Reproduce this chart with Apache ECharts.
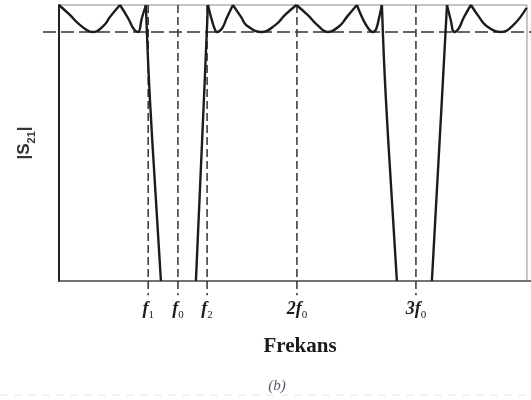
<!DOCTYPE html>
<html><head><meta charset="utf-8">
<script src="https://cdn.jsdelivr.net/npm/echarts@6/dist/echarts.min.js"></script>
<style>html,body{margin:0;padding:0;background:#fff}#c{width:531px;height:400px}</style>
</head><body><div id="c"></div>
<script>
// Frequency in units of f0, |S21| normalised to 1
const markerValues = [0.75, 1, 1.245, 2, 3];
const markerLabels = ['{i|f}{s|1}', '{i|f}{s|0}', '{i|f}{s|2}', '{i|2f}{s|0}', '{i|3f}{s|0}'];
const rippleLevel = 0.902;
const xRange = [-0.134, 3.967];     // visible frequency range (dashed ripple line spans it)
const plotEnd = 3.933;              // right edge of the frame
const markerBottom = -0.052;

// response curve, arcs between ripple peaks (each arc drawn as its own piece)
const pass1a = [[0,1],[0.092,0.964],[0.176,0.928],[0.286,0.902],[0.378,0.926],[0.429,0.957],[0.513,1]];
const pass1b = [[0.513,1],[0.58,0.953],[0.63,0.912],[0.664,0.902],[0.697,0.953],[0.731,1]];
const stop1Fall = [[0.731,1],[0.765,0.656],[0.857,0]];
const stop1Rise = [[1.151,0],[1.218,0.656],[1.252,1]];
const pass2a = [[1.252,1],[1.28,0.953],[1.31,0.912],[1.328,0.902],[1.37,0.915],[1.41,0.953],[1.462,1]];
const pass2b = [[1.462,1],[1.53,0.957],[1.58,0.925],[1.706,0.902],[1.82,0.928],[1.90,0.964],[1.995,1]];
const pass2c = [[1.995,1],[2.09,0.964],[2.17,0.928],[2.26,0.902],[2.36,0.925],[2.42,0.957],[2.504,1]];
const pass2d = [[2.504,1],[2.55,0.953],[2.60,0.915],[2.639,0.902],[2.665,0.912],[2.69,0.953],[2.714,1]];
const stop2Fall = [[2.714,1],[2.748,0.656],[2.840,0]];
const stop2Rise = [[3.134,0],[3.218,0.656],[3.261,1]];
const pass3a = [[3.261,1],[3.29,0.95],[3.324,0.902],[3.36,0.915],[3.40,0.953],[3.462,1]];
const pass3b = [[3.462,1],[3.53,0.957],[3.59,0.925],[3.714,0.902],[3.82,0.928],[3.93,0.99]];
const curvePieces = [pass1a, pass1b, stop1Fall, stop1Rise, pass2a, pass2b, pass2c, pass2d, stop2Fall, stop2Rise, pass3a, pass3b];

const chart = echarts.init(document.getElementById('c'), null, {renderer: 'canvas'});
const series = [];
function plainLine(data, color, width, type, z) {
  return {type: 'line', data: data, showSymbol: false, clip: false, silent: true,
    lineStyle: {color: color, width: width, type: type || 'solid'}, z: z || 2};
}
// frame (top, right, bottom)
series.push(plainLine([[0, 1], [plotEnd, 1]], '#8a8a8a', 1));
series.push(plainLine([[plotEnd, 0], [plotEnd, 1]], '#8a8a8a', 1));
series.push(plainLine([[0, 0], [xRange[1], 0]], '#444', 1.5));
// dashed markers
markerValues.forEach(v => series.push(plainLine([[v, 1], [v, markerBottom]], '#333', 1.5, [8, 4], 3)));
series.push(plainLine([[xRange[0], rippleLevel], [xRange[1], rippleLevel]], '#333', 1.5, [13, 5], 3));
// response
curvePieces.forEach(p => series.push({
  type: 'line', data: p, smooth: 0.45, showSymbol: false, silent: true,
  lineStyle: {color: '#1c1c1c', width: 2.4}, z: 5
}));

const labelRich = {
  i: {fontFamily: 'Liberation Serif', fontStyle: 'italic', fontWeight: 'bold', fontSize: 18, color: '#1c1c1c', lineHeight: 22, verticalAlign: 'bottom'},
  s: {fontFamily: 'Liberation Serif', fontSize: 11, color: '#1c1c1c', lineHeight: 22, verticalAlign: 'bottom', padding: [0, 0, -3, 0]}
};

chart.setOption({
  animation: false,
  backgroundColor: '#fff',
  grid: {left: 43, top: 5, right: 0, bottom: 119, show: false, containLabel: false, outerBoundsMode: 'none'},
  xAxis: {
    type: 'value', min: xRange[0], max: xRange[1],
    name: 'Frekans', nameLocation: 'middle', nameGap: 55,
    nameTextStyle: {fontFamily: 'Liberation Serif', fontWeight: 'bold', fontSize: 21, color: '#1c1c1c', padding: [0, 0, 0, 26]},
    axisLine: {show: false},
    axisTick: {show: false},
    splitLine: {show: false},
    axisLabel: {
      customValues: markerValues, margin: 15,
      formatter: v => { const k = markerValues.indexOf(v); return k >= 0 ? markerLabels[k] : ''; },
      rich: labelRich
    }
  },
  yAxis: {
    type: 'value', min: 0, max: 1,
    name: '|S{sub|21}|', nameLocation: 'middle', nameRotate: 90, nameGap: 10,
    nameTextStyle: {
      fontFamily: 'Liberation Sans', fontWeight: 'bold', fontSize: 17, color: '#333',
      rich: {sub: {fontFamily: 'Liberation Sans', fontWeight: 'bold', fontSize: 11, color: '#333', verticalAlign: 'bottom', padding: [0, 0, -4, 0]}}
    },
    axisLine: {show: true, onZero: true, lineStyle: {color: '#222', width: 2}},
    axisTick: {show: false}, axisLabel: {show: false}, splitLine: {show: false}
  },
  graphic: [
    {type: 'text', x: 277, y: 386, style: {text: '(b)', fontFamily: 'Liberation Serif', fontStyle: 'italic', fontSize: 15, fill: '#555a66', textAlign: 'center', textVerticalAlign: 'middle'}},
    {type: 'line', shape: {x1: 0, y1: 395, x2: 531, y2: 395}, style: {stroke: '#e6e6e6', lineWidth: 1, lineDash: [8, 6]}}
  ],
  series: series
});
</script></body></html>
